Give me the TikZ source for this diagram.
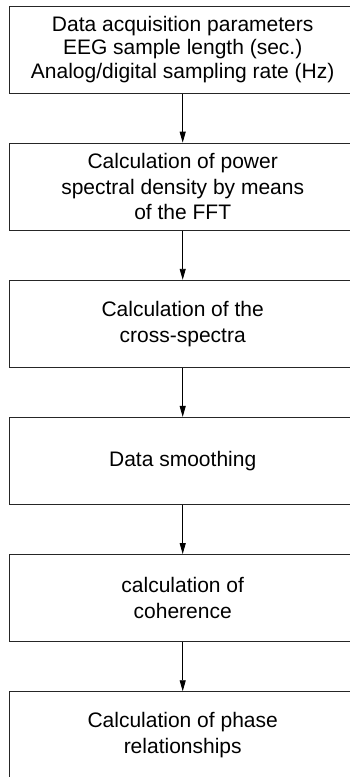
\documentclass[tikz,border=0pt]{standalone}
\usepackage{fontspec}
\setmainfont{Liberation Sans}
\usetikzlibrary{arrows.meta}
\begin{document}
\begin{tikzpicture}[x=1pt,y=1pt,
  stepbox/.style={draw=black!85, line width=1pt, rectangle, minimum width=346.4pt, minimum height=87pt,
    align=center, inner sep=0pt, font=\fontsize{21}{25.7}\selectfont},
  flow/.style={draw=black, line width=0.9pt, -{Triangle[length=11pt,width=6pt]}}]
\useasboundingbox (0,0) rectangle (350,-777);
\clip (0,0) rectangle (350,-777);
\node[stepbox, font=\fontsize{21}{23.3}\selectfont] (b1) at (182.7,-49.5) {Data acquisition parameters\\EEG sample length (sec.)\\Analog/digital sampling rate (Hz)};
\node[stepbox] (b2) at (182.7,-186.65) {Calculation of power\\spectral density by means\\of the FFT};
\node[stepbox] (b3) at (182.7,-323.8) {Calculation of the\\cross-spectra};
\node[stepbox] (b4) at (182.7,-460.95) {Data smoothing};
\node[stepbox] (b5) at (182.7,-598.1) {calculation of\\coherence};
\node[stepbox] (b6) at (182.7,-735.25) {Calculation of phase\\relationships};
\draw[flow] (b1.south) -- (b2.north);
\draw[flow] (b2.south) -- (b3.north);
\draw[flow] (b3.south) -- (b4.north);
\draw[flow] (b4.south) -- (b5.north);
\draw[flow] (b5.south) -- (b6.north);
\end{tikzpicture}
\end{document}
